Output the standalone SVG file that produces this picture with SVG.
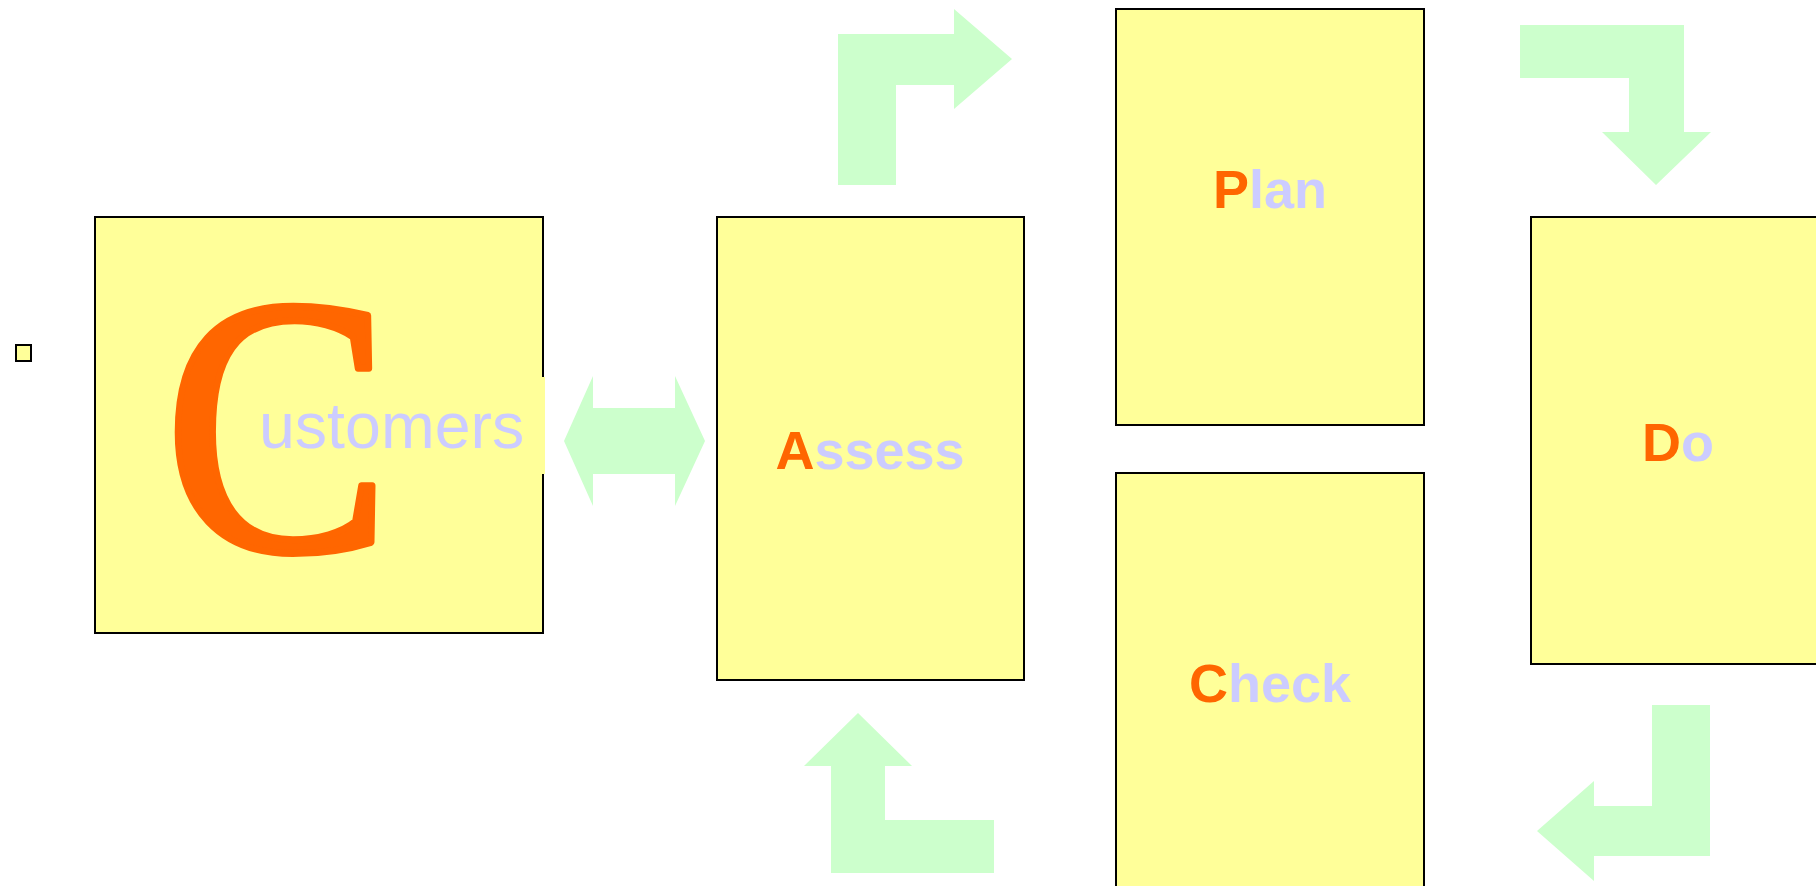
<svg xmlns="http://www.w3.org/2000/svg" width="1816" height="886" viewBox="0 0 1816 886">
  <style>
    .box { fill: #FFFF99; stroke: #000000; stroke-width: 2; }
    .arrow { fill: #CCFFCC; stroke: none; }
    .lbl { font-family: "Liberation Sans", Arial, sans-serif; font-weight: bold; font-size: 54px; }
    .hi { fill: #FF6600; }
    .lo { fill: #CCCCFF; }
  </style>
  <rect width="1816" height="886" fill="#FFFFFF"/>

  <g id="marker-square">
    <rect x="16" y="345" width="15" height="16" class="box"/>
  </g>

  <g id="node-customers">
    <rect x="95" y="217" width="448" height="416" class="box"/>
    <text transform="translate(164,550) scale(0.925,1)" font-family="'Liberation Serif', 'Times New Roman', serif" font-size="368" stroke="#FF6600" stroke-width="7" stroke-linejoin="round" class="hi">C</text>
    <rect x="246" y="377" width="299" height="97" fill="#FFFF99"/>
    <text x="259" y="448" font-family="'Liberation Sans', Arial, sans-serif" font-size="64.5" class="lo">ustomers</text>
  </g>

  <g id="node-assess">
    <rect x="717" y="217" width="307" height="463" class="box"/>
    <text x="870" y="469" text-anchor="middle" class="lbl"><tspan class="hi">A</tspan><tspan class="lo">ssess</tspan></text>
  </g>

  <g id="node-plan">
    <rect x="1116" y="9" width="308" height="416" class="box"/>
    <text x="1270" y="208" text-anchor="middle" class="lbl"><tspan class="hi">P</tspan><tspan class="lo">lan</tspan></text>
  </g>

  <g id="node-do">
    <rect x="1531" y="217" width="310" height="447" class="box"/>
    <text x="1642" y="461" class="lbl"><tspan class="hi">D</tspan><tspan class="lo">o</tspan></text>
  </g>

  <g id="node-check">
    <rect x="1116" y="473" width="308" height="430" class="box"/>
    <text x="1270" y="702" text-anchor="middle" class="lbl"><tspan class="hi">C</tspan><tspan class="lo">heck</tspan></text>
  </g>

  <g id="connectors">
    <polygon class="arrow" points="564,441 593,376 593,408 675,408 675,376 705,441 675,506 675,474 593,474 593,506"/>
    <polygon class="arrow" points="838,185 838,34 954,34 954,9 1012,59 954,109 954,85 896,85 896,185"/>
    <polygon class="arrow" points="1520,25 1684,25 1684,132 1711,132 1656,185 1602,132 1629,132 1629,78 1520,78"/>
    <polygon class="arrow" points="1652,705 1710,705 1710,856 1594,856 1594,881 1537,831 1594,781 1594,806 1652,806"/>
    <polygon class="arrow" points="831,873 831,766 804,766 858,713 912,766 885,766 885,820 994,820 994,873"/>
  </g>
</svg>
